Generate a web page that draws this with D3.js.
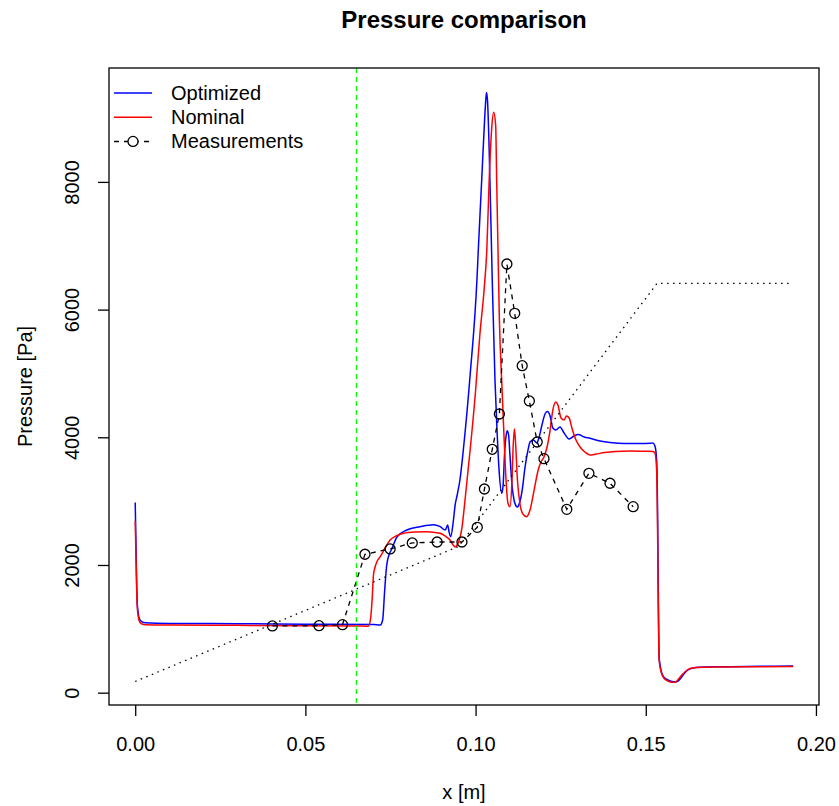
<!DOCTYPE html>
<html>
<head>
<meta charset="utf-8">
<script src="https://cdn.jsdelivr.net/npm/d3@7"></script>
<style>
  body { margin: 0; background: #fff; }
  svg text { font-family: "Liberation Sans", Arial, Helvetica, sans-serif; fill: #000; }
</style>
</head>
<body>
<div id="chart"></div>
<script>
// x positions [m] and pressure [Pa]
var optX = [0, 0.0002, 0.0004, 0.0006, 0.0009, 0.0013, 0.002, 0.003, 0.01, 0.03, 0.05, 0.07,
  0.0720, 0.0727, 0.0733, 0.0739, 0.0743, 0.0755, 0.0769, 0.0798, 0.0837, 0.0876, 0.0896, 0.0911,
  0.0918, 0.0922, 0.0927, 0.0935, 0.0940, 0.0946, 0.0954, 0.0964, 0.0984, 0.1004, 0.1008, 0.1018,
  0.1025, 0.1029, 0.1032, 0.1035, 0.1040, 0.1049, 0.1057, 0.1063, 0.1069, 0.1077, 0.1081, 0.1085,
  0.1090, 0.1093, 0.1097, 0.1101, 0.1107, 0.1113, 0.1119, 0.1123, 0.1129, 0.1137, 0.1145, 0.1154,
  0.1160, 0.1170, 0.1180, 0.1186, 0.1195, 0.1204, 0.1211, 0.1219, 0.1227, 0.1236, 0.1248, 0.1260,
  0.1275, 0.1289, 0.1302, 0.1319, 0.1336, 0.1366, 0.1395, 0.1439, 0.1483, 0.1513, 0.1521, 0.1527,
  0.1532, 0.1535, 0.1537, 0.1539, 0.1542, 0.1546, 0.1553, 0.1565, 0.1577, 0.1591, 0.1601, 0.1612,
  0.1624, 0.1639, 0.1659, 0.1718, 0.1836, 0.1933];
var optY = [2980, 2400, 1800, 1400, 1240, 1150, 1110, 1095, 1085, 1080, 1072, 1066,
  1060, 1139, 1608, 2000, 2110, 2266, 2439, 2548, 2600, 2631, 2600, 2548,
  2626, 2521, 2443, 2705, 2940, 3096, 3331, 3801, 4976, 6464, 6933, 8030,
  8811, 9203, 9400, 9280, 8497, 6464, 4898, 4114, 3488, 3123, 3253, 3723,
  4036, 4103, 4036, 3723, 3253, 3018, 2924, 2908, 2971, 3174, 3519, 3801,
  3926, 3958, 3911, 3989, 4192, 4364, 4404, 4333, 4145, 4114, 4161, 4067,
  3973, 4020, 4044, 4005, 3984, 3942, 3919, 3903, 3903, 3906, 3911, 3864,
  3644, 2705, 1452, 590, 434, 324, 246, 199, 175, 172, 215, 293,
  356, 387, 398, 407, 413, 418];

var nomX = [0, 0.0002, 0.0004, 0.0006, 0.0009, 0.0013, 0.002, 0.003, 0.01, 0.03, 0.05, 0.065,
  0.0685, 0.0691, 0.0696, 0.0700, 0.0705, 0.0711, 0.0720, 0.0734, 0.0749, 0.0767, 0.0788, 0.0822,
  0.0857, 0.0881, 0.0896, 0.0910, 0.0925, 0.0934, 0.0940, 0.0946, 0.0952, 0.0959, 0.0969, 0.0978,
  0.0984, 0.0999, 0.1013, 0.1025, 0.1033, 0.1040, 0.1047, 0.1053, 0.1059, 0.1062, 0.1067, 0.1070,
  0.1077, 0.1084, 0.1090, 0.1095, 0.1101, 0.1107, 0.1110, 0.1114, 0.1117, 0.1123, 0.1131, 0.1139,
  0.1150, 0.1160, 0.1172, 0.1184, 0.1192, 0.1201, 0.1210, 0.1219, 0.1227, 0.1236, 0.1242, 0.1251,
  0.1260, 0.1267, 0.1275, 0.1283, 0.1295, 0.1307, 0.1321, 0.1336, 0.1354, 0.1380, 0.1410, 0.1454,
  0.1498, 0.1521, 0.1527, 0.1532, 0.1535, 0.1537, 0.1539, 0.1542, 0.1546, 0.1553, 0.1565, 0.1577,
  0.1586, 0.1594, 0.1606, 0.1618, 0.1630, 0.1651, 0.1718, 0.1836, 0.1933];
var nomY = [2690, 2200, 1700, 1350, 1190, 1110, 1075, 1065, 1060, 1055, 1050, 1046,
  1040, 1139, 1452, 1843, 1973, 2063, 2130, 2266, 2392, 2454, 2497, 2517,
  2522, 2509, 2497, 2454, 2392, 2313, 2282, 2313, 2392, 2548, 3018, 3488,
  3801, 4663, 5634, 6307, 6933, 8030, 8811, 9090, 8891, 8030, 6620, 5837,
  4851, 3958, 3285, 2971, 2913, 3331, 3801, 4130, 3958, 3331, 2939, 2798,
  2757, 2861, 3174, 3488, 3613, 3691, 3848, 4114, 4427, 4553, 4505, 4302,
  4270, 4333, 4302, 4145, 3958, 3848, 3770, 3723, 3738, 3762, 3778, 3785,
  3781, 3778, 3754, 3488, 2392, 1295, 543, 402, 309, 230, 183, 163,
  163, 199, 277, 340, 379, 395, 402, 407, 410];

var measX = [0.0403, 0.0540, 0.0609, 0.0675, 0.0749, 0.0814, 0.0887, 0.0960, 0.1005, 0.1026, 0.1049,
  0.1070, 0.1092, 0.1115, 0.1137, 0.1158, 0.1181, 0.1201, 0.1268, 0.1333, 0.1395, 0.1463];
var measY = [1045, 1049, 1065, 2168, 2251, 2345, 2360, 2360, 2590, 3190, 3812,
  4365, 6714, 5942, 5121, 4569, 3926, 3665, 2872, 3436, 3280, 2913];

// dotted reference profile
var refX = [0, 0.095, 0.1533, 0.1924];
var refY = [175, 2290, 6410, 6410];

var markerX = 0.065;

var xTicks = [0, 0.05, 0.10, 0.15, 0.20];
var yTicks = [0, 2000, 4000, 6000, 8000];
var legendNames = ["Optimized", "Nominal", "Measurements"];

var W = 839, H = 806;
var margin = {top: 68, right: 20, bottom: 101, left: 109};
var pL = margin.left, pR = W - margin.right, pT = margin.top, pB = H - margin.bottom;

var x = d3.scaleLinear().domain([-0.0077, 0.2009]).range([pL, pR]);
var y = d3.scaleLinear().domain([-193, 9784]).range([pB, pT]);

var svg = d3.select("#chart").append("svg")
    .attr("width", W)
    .attr("height", H);

function pts(xs, ys) {
    return xs.map(function(v, i) { return [v, ys[i]]; });
}

var line = d3.line()
    .x(function(d) { return x(d[0]); })
    .y(function(d) { return y(d[1]); })
    .curve(d3.curveMonotoneX);
var straight = d3.line()
    .x(function(d) { return x(d[0]); })
    .y(function(d) { return y(d[1]); });

// curves
svg.append("path")
    .attr("d", line(pts(optX, optY)))
    .attr("fill", "none")
    .attr("stroke", "#0000ff")
    .attr("stroke-width", 1.5);

svg.append("path")
    .attr("d", line(pts(nomX, nomY)))
    .attr("fill", "none")
    .attr("stroke", "#ff0000")
    .attr("stroke-width", 1.5);

svg.append("path")
    .attr("d", straight(pts(refX, refY)))
    .attr("fill", "none")
    .attr("stroke", "#000")
    .attr("stroke-width", 1.3)
    .attr("stroke-dasharray", "1.5,4.5");

// measurements
svg.append("path")
    .attr("d", straight(pts(measX, measY)))
    .attr("fill", "none")
    .attr("stroke", "#000")
    .attr("stroke-width", 1.3)
    .attr("stroke-dasharray", "5,5");

svg.selectAll(".meas")
    .data(pts(measX, measY))
    .enter()
    .append("circle")
    .attr("class", "meas")
    .attr("cx", function(d) { return x(d[0]); })
    .attr("cy", function(d) { return y(d[1]); })
    .attr("r", 5)
    .attr("fill", "none")
    .attr("stroke", "#000")
    .attr("stroke-width", 1.3);

// green marker
svg.append("line")
    .attr("x1", x(markerX)).attr("x2", x(markerX))
    .attr("y1", pT).attr("y2", pB)
    .attr("stroke", "#00ff00")
    .attr("stroke-width", 1.3)
    .attr("stroke-dasharray", "5,4");

// box
svg.append("rect")
    .attr("x", pL).attr("y", pT)
    .attr("width", pR - pL).attr("height", pB - pT)
    .attr("fill", "none")
    .attr("stroke", "#000")
    .attr("stroke-width", 1.3);

// axes
var xAxis = svg.append("g")
    .attr("transform", "translate(0," + pB + ")")
    .call(d3.axisBottom(x).tickValues(xTicks).tickSize(11).tickSizeOuter(0).tickPadding(21)
        .tickFormat(d3.format(".2f")));
xAxis.select(".domain").remove();
xAxis.selectAll("line").attr("stroke-width", 1.3);
xAxis.selectAll("text").style("font-size", "20px");

var yAxis = svg.append("g")
    .attr("transform", "translate(" + pL + ",0)")
    .call(d3.axisLeft(y).tickValues(yTicks).tickSize(11).tickSizeOuter(0).tickFormat(d3.format("d")));
yAxis.select(".domain").remove();
yAxis.selectAll("line").attr("stroke-width", 1.3);
yAxis.selectAll("text")
    .attr("x", null).attr("dy", null)
    .attr("text-anchor", "middle")
    .attr("transform", "translate(-30,0) rotate(-90)")
    .style("font-size", "20px");
svg.selectAll("g").attr("font-family", null).attr("font-size", null);

// titles
svg.append("text")
    .attr("x", (pL + pR) / 2)
    .attr("y", 28)
    .attr("text-anchor", "middle")
    .style("font-size", "24px")
    .style("font-weight", "bold")
    .text("Pressure comparison");

svg.append("text")
    .attr("x", (pL + pR) / 2)
    .attr("y", 799)
    .attr("text-anchor", "middle")
    .style("font-size", "20px")
    .text("x [m]");

svg.append("text")
    .attr("transform", "translate(32," + ((pT + pB) / 2) + ") rotate(-90)")
    .attr("text-anchor", "middle")
    .style("font-size", "20px")
    .text("Pressure [Pa]");

// legend
var legendColors = ["#0000ff", "#ff0000", "#000"];
var legend = svg.append("g");
legendNames.forEach(function(name, i) {
    var ly = 93 + i * 24.2;
    legend.append("line")
        .attr("x1", 114).attr("x2", 152)
        .attr("y1", ly).attr("y2", ly)
        .attr("stroke", legendColors[i])
        .attr("stroke-width", 1.5)
        .attr("stroke-dasharray", i == 2 ? "5,5" : null);
    if (i == 2) {
        legend.append("circle")
            .attr("cx", 133).attr("cy", ly).attr("r", 5)
            .attr("fill", "#fff")
            .attr("stroke", "#000")
            .attr("stroke-width", 1.3);
    }
    legend.append("text")
        .attr("x", 171)
        .attr("y", ly)
        .attr("dy", "0.35em")
        .style("font-size", "20px")
        .text(name);
});
</script>
</body>
</html>
